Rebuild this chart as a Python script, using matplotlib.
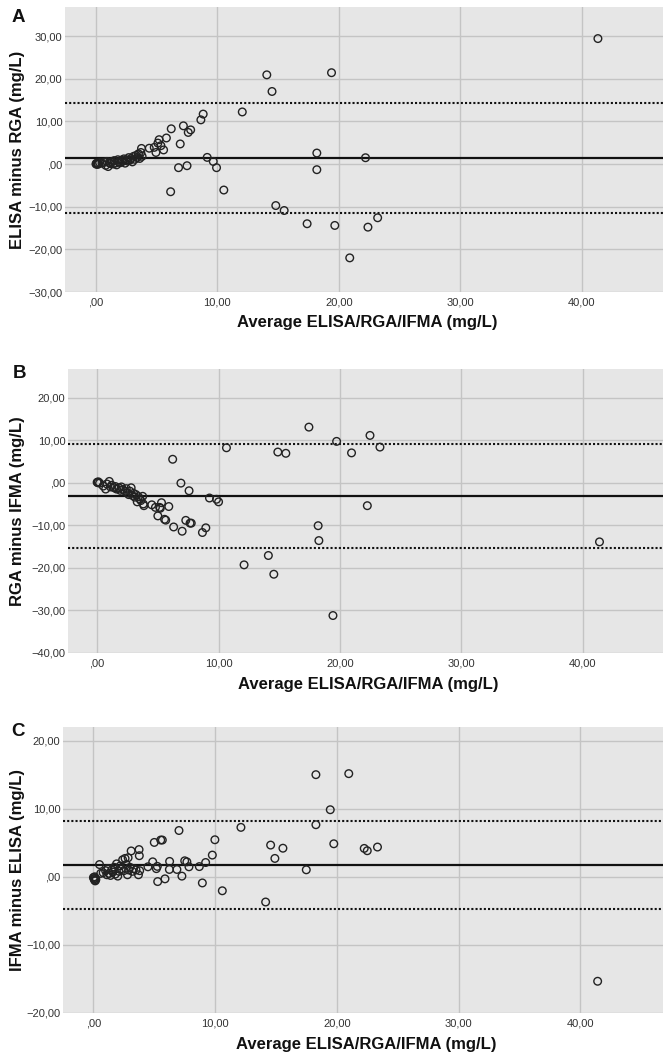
import matplotlib
matplotlib.use("Agg")
import matplotlib.pyplot as plt
from matplotlib.ticker import FuncFormatter, MultipleLocator

plt.rcParams['font.family'] = ['Liberation Sans', 'DejaVu Sans']

# ---------------- Data ----------------
# Panel A: ELISA minus RGA
xA = [0.0, 0.05, 0.1, 0.15, 0.2, 0.3, 0.5, 0.7, 0.8, 0.9, 1.0, 1.1, 1.2, 1.3, 1.4, 1.5, 1.6, 1.7,
      1.8, 1.9, 2.0, 2.1, 2.2, 2.3, 2.4, 2.5, 2.6, 2.7, 2.8, 2.9, 3.0, 3.1, 3.2, 3.3, 3.4, 3.5, 3.6,
      3.7, 3.75, 3.8, 4.39, 4.8, 4.94, 5.1, 5.2, 5.35, 5.57, 5.8, 6.15, 6.2, 6.8, 6.94, 7.2, 7.5,
      7.6, 7.8, 8.64, 8.83, 9.16, 9.66, 9.93, 10.53, 12.05, 14.07, 14.5, 14.81, 15.5, 17.39, 18.19,
      18.19, 19.4, 19.67, 20.9, 22.2, 22.4, 23.2, 41.34]
yA = [0.0, 0.2, -0.1, 0.1, 0.0, 0.3, 0.2, 0.4, -0.3, 0.6, -0.6, 0.3, 0.1, 0.5, 0.0, 0.8, 0.2, -0.2,
      1.0, 0.5, 0.3, 0.9, 0.6, 1.2, 0.2, 1.0, 0.7, 1.5, 0.9, 1.3, 0.5, 1.8, 1.1, 2.0, 1.5, 2.4, 1.3,
      2.7, 3.65, 1.8, 3.7, 3.9, 2.7, 4.9, 5.7, 4.3, 3.3, 6.1, -6.5, 8.25, -0.86, 4.7, 8.95, -0.4,
      7.4, 8.0, 10.35, 11.7, 1.55, 0.6, -0.86, -6.1, 12.2, 20.9, 17.0, -9.74, -10.9, -14.0, 2.57,
      -1.33, 21.4, -14.4, -22.0, 1.47, -14.8, -12.6, 29.4]
meanA, upperA, lowerA = 1.3, 14.3, -11.5

# Panel B: RGA minus IFMA
xB = [0.0, 0.05, 0.1, 0.2, 0.5, 0.7, 0.8, 1.0, 1.1, 1.2, 1.4, 1.5, 1.6, 1.8, 1.9, 2.0, 2.1, 2.3,
      2.4, 2.5, 2.6, 2.7, 2.8, 2.9, 3.0, 3.1, 3.2, 3.3, 3.4, 3.5, 3.6, 3.75, 3.8, 3.85, 4.5, 4.8,
      5.0, 5.15, 5.2, 5.3, 5.55, 5.65, 5.9, 6.22, 6.3, 6.9, 7.0, 7.3, 7.57, 7.65, 7.75, 8.67, 8.95,
      9.25, 9.83, 10.0, 10.65, 12.1, 14.1, 14.55, 14.88, 15.54, 17.44, 18.2, 18.26, 19.42, 19.72,
      20.95, 22.25, 22.47, 23.29, 41.37]
yB = [0.1, 0.0, 0.2, -0.1, -0.8, -1.5, -0.3, 0.3, -1.0, -0.6, -1.2, -0.9, -1.5, -1.2, -1.8, -1.0,
      -1.6, -2.0, -1.4, -2.4, -2.8, -2.0, -1.2, -3.0, -2.5, -3.4, -2.8, -4.5, -3.3, -3.8, -4.2, -3.2,
      -5.0, -5.4, -5.2, -5.8, -7.8, -5.8, -6.0, -4.7, -8.6, -8.8, -5.6, 5.5, -10.4, -0.1, -11.4,
      -8.85, -1.9, -9.5, -9.5, -11.7, -10.6, -3.6, -3.9, -4.5, 8.2, -19.3, -17.1, -21.5, 7.2, 6.9,
      13.05, -10.1, -13.6, -31.2, 9.7, 7.0, -5.4, 11.1, 8.36, -13.9]
meanB, upperB, lowerB = -3.15, 9.15, -15.35

# Panel C: IFMA minus ELISA
xC = [0.0, 0.05, 0.1, 0.1, 0.15, 0.2, 0.15, 0.5, 0.6, 0.8, 1.0, 1.1, 1.2, 1.3, 1.4, 1.5, 1.6, 1.7,
      1.8, 1.9, 2.0, 2.1, 2.2, 2.3, 2.4, 2.5, 2.6, 2.7, 2.8, 2.85, 2.9, 3.0, 3.1, 3.2, 3.3, 3.5,
      3.75, 3.77, 3.7, 3.8, 4.48, 4.87, 5.0, 5.17, 5.25, 5.28, 5.53, 5.66, 5.88, 6.24, 6.26, 6.86,
      7.03, 7.27, 7.5, 7.68, 7.85, 8.7, 8.95, 9.22, 9.77, 9.98, 10.59, 12.12, 14.15, 14.56, 14.91,
      15.57, 17.49, 18.28, 18.28, 19.46, 19.75, 20.98, 22.25, 22.5, 23.34, 41.43]
yC = [-0.1, -0.3, 0.0, -0.5, -0.2, -0.4, -0.6, 1.8, 0.5, 0.6, 0.9, 0.3, 1.2, 0.5, 0.2, 1.0, 0.7,
      1.4, 0.4, 1.9, 0.1, 0.8, 1.6, 1.2, 2.5, 0.9, 2.7, 1.8, 0.3, 2.8, 1.0, 1.4, 3.8, 0.8, 1.2, 1.0,
      4.0, 3.1, 0.3, 0.9, 1.47, 2.2, 5.05, 1.2, 1.53, -0.7, 5.4, 5.4, -0.3, 1.08, 2.26, 1.08, 6.8,
      0.1, 2.35, 2.2, 1.47, 1.5, -0.9, 2.1, 3.19, 5.44, -2.05, 7.26, -3.7, 4.66, 2.7, 4.2, 1.03,
      15.0, 7.65, 9.85, 4.85, 15.15, 4.17, 3.83, 4.37, -15.34]
meanC, upperC, lowerC = 1.76, 8.15, -4.7

letters = ["A", "B", "C"]
ylabels = ["ELISA minus RGA (mg/L)", "RGA minus IFMA (mg/L)", "IFMA minus ELISA (mg/L)"]
xlabel = "Average ELISA/RGA/IFMA (mg/L)"
ylims = [(-30, 36.8), (-40, 26.7), (-20, 22.0)]
xlims = [(-2.55, 46.7), (-2.4, 46.6), (-2.5, 46.8)]

# ---------------- Figure ----------------
W, H = 663, 1054
fig = plt.figure(figsize=(W / 100, H / 100), dpi=100)

# axes boxes in pixel coords: left, top, bottom
boxes = [(65, 7, 292), (68, 369, 653), (63, 727, 1013)]
letter_pos = [(18, 18), (20, 373), (18, 731)]
xlabel_y = [323, 684, 1044]

panels = [(xA, yA, meanA, upperA, lowerA),
          (xB, yB, meanB, upperB, lowerB),
          (xC, yC, meanC, upperC, lowerC)]

def fmt(v, pos):
    v = round(v)
    if v == 0:
        return ",00"
    s = f"{abs(v)},00"
    return ("\u2212" + s) if v < 0 else s

for i, (xs, ys, m, up, lo) in enumerate(panels):
    left, top, bottom = boxes[i]
    ax = fig.add_axes([left / W, 1 - bottom / H, (W - left) / W, (bottom - top) / H])
    ax.set_facecolor("#e6e6e6")
    for sp in ax.spines.values():
        sp.set_visible(False)
    ax.set_xlim(*xlims[i])
    ax.set_ylim(*ylims[i])
    ax.xaxis.set_major_locator(MultipleLocator(10))
    ax.yaxis.set_major_locator(MultipleLocator(10))
    ax.xaxis.set_major_formatter(FuncFormatter(fmt))
    ax.yaxis.set_major_formatter(FuncFormatter(fmt))
    ax.grid(True, color="#c4c4c4", lw=1.0)
    ax.set_axisbelow(True)
    ax.tick_params(length=0, labelsize=8, colors="#333333", pad=4)
    ax.tick_params(axis="y", pad=2)

    ax.axhline(m, color="#111111", lw=1.6, zorder=2)
    ax.axhline(up, color="#111111", lw=1.5, ls=(0, (1, 1)), zorder=2)
    ax.axhline(lo, color="#111111", lw=1.5, ls=(0, (1, 1)), zorder=2)
    ax.scatter(xs, ys, s=30, facecolors="none", edgecolors="#222222", linewidths=1.0, zorder=3)

    fig.text((left + W) / 2 / W + 3 / W, 1 - xlabel_y[i] / H, xlabel, ha="center", va="center",
             fontsize=12, fontweight="bold", color="#111111")
    fig.text(18 / W, 1 - ((top + bottom) / 2) / H, ylabels[i], rotation=90,
             ha="center", va="center", fontsize=12, fontweight="bold", color="#111111")
    fig.text(letter_pos[i][0] / W, 1 - letter_pos[i][1] / H, letters[i], ha="center", va="center",
             fontsize=13.5, fontweight="bold", color="#111111")

fig.savefig("out.png", dpi=100)
